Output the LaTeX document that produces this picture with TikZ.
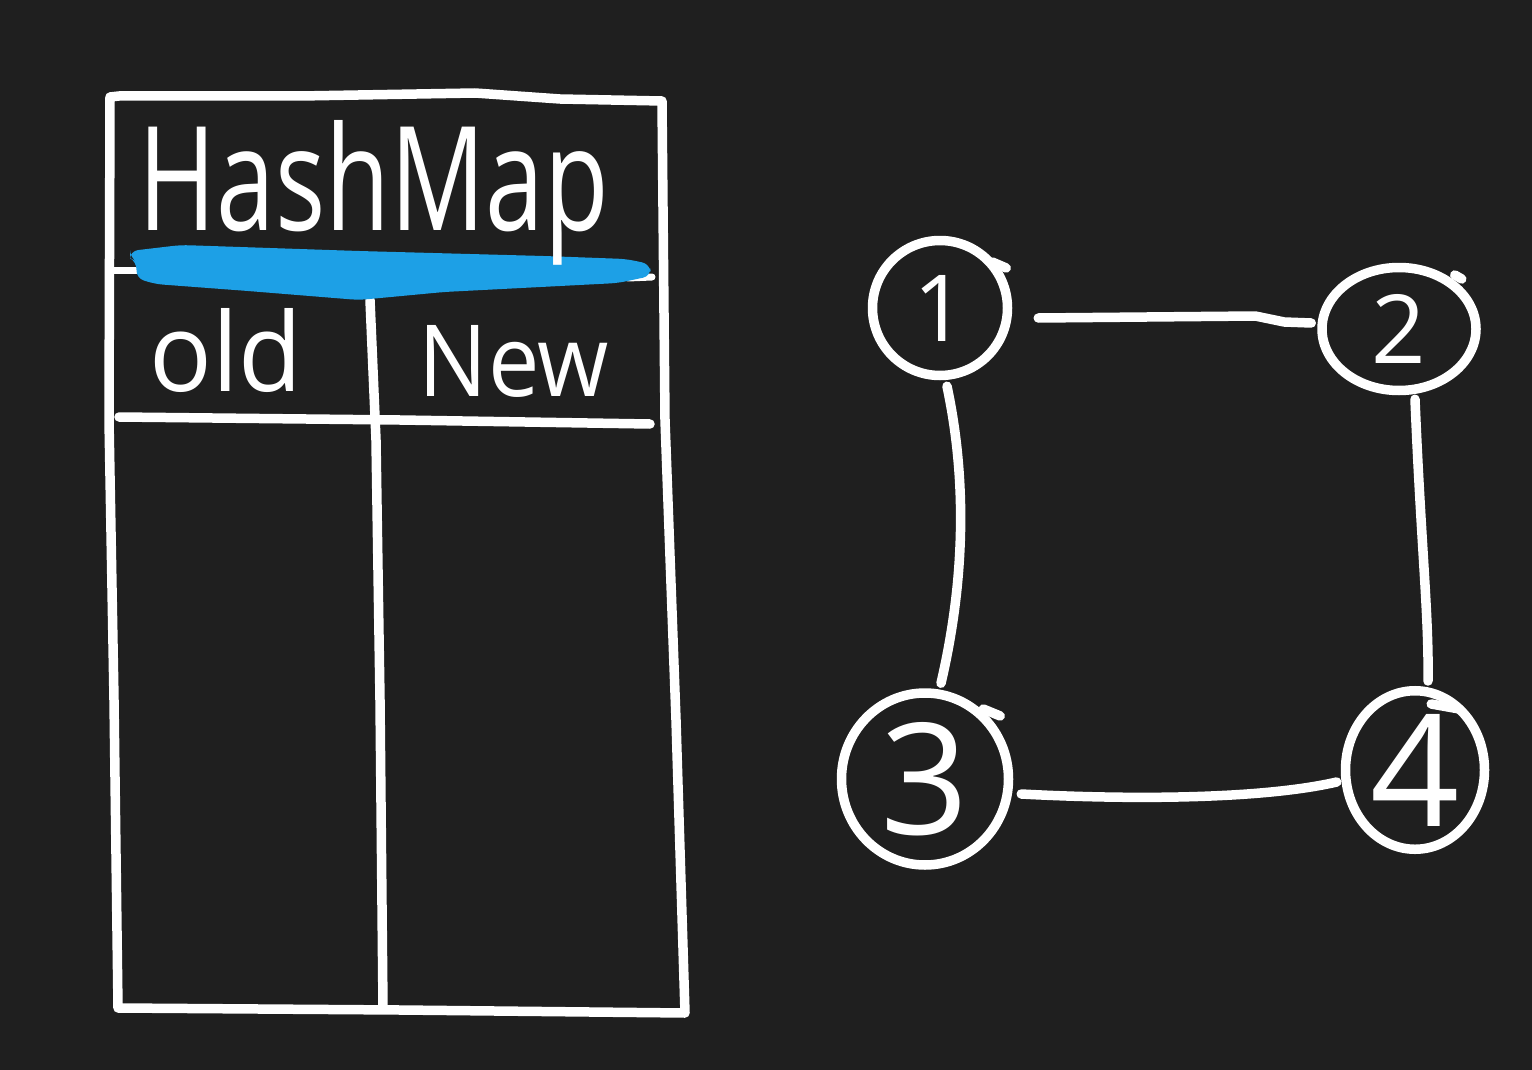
\documentclass[tikz,border=0pt]{standalone}
\usepackage{fontspec}
\setmainfont{Open Sans}
\usetikzlibrary{shapes.geometric}
\definecolor{bg}{HTML}{1F1F1F}
\definecolor{hl}{HTML}{1DA0E6}
\tikzset{
  pen/.style={draw=white,line width=9.5pt,line cap=round,line join=round},
  vertex/.style={ellipse,pen,inner sep=0pt,text=white},
  label/.style={text=white,inner sep=0pt,anchor=base},
  edge/.style={pen}
}
\begin{document}
\begin{tikzpicture}[x=1pt,y=-1pt]
\fill[bg] (0,0) rectangle (1532,1070);
\useasboundingbox (0,0) rectangle (1532,1070);

% ---- table ----
\draw[pen] (110,97) -- (119,96) -- (300,96) -- (475,93) -- (560,99) -- (662,101)
  -- (665,420) -- (676,720) -- (685,1013) -- (400,1010) -- (118,1008)
  -- (114,700) -- (109,420) -- cycle;
% header underline
\draw[pen] (119,417) -- (400,420) -- (650,424);
% column divider
\draw[pen] (370,300) -- (376,440) -- (380,700) -- (383,1008);
% white stubs under highlight
\draw[pen,line width=7pt] (112,270) -- (138,270);
\draw[pen,line width=7pt] (628,278) -- (652,277);
% blue highlight
\fill[hl,rounded corners=8pt] (130,251) -- (181,245) -- (359,251) -- (544,256) -- (626,259)
  -- (650,264) -- (651,276) -- (618,283) -- (444,292) -- (359,300) -- (248,291)
  -- (155,284) -- (136,278) -- (137,262) -- (130,258) -- cycle;

\node[label] (title) at (374,230) {\resizebox{470pt}{110pt}{HashMap}};
\node[label] (old) at (226,391) {\resizebox{153pt}{83pt}{old}};
\node[label] (new) at (514,396) {\resizebox{190pt}{71pt}{New}};

% ---- graph ----
\node[vertex,minimum width=135pt,minimum height=135pt] (n1) at (940,308)
  {\resizebox{!}{66pt}{1}};
\node[vertex,minimum width=154pt,minimum height=123pt] (n2) at (1399,329)
  {\resizebox{!}{69pt}{2}};
\node[vertex,minimum width=167pt,minimum height=172pt] (n3) at (925,779)
  {\resizebox{!}{112pt}{3}};
\node[vertex,minimum width=139pt,minimum height=155pt] (n4) at (1415,770)
  {\resizebox{!}{112pt}{4}};

% stroke tails of the hand-drawn circles
\draw[pen] ([shift={(-20,-46)}]n1.east) -- ([shift={(-6,-40)}]n1.east);
\draw[pen] ([shift={(-26,-54)}]n2.east) -- ([shift={(-19,-50)}]n2.east);
\draw[pen] ([shift={(-30,-70)}]n3.east) -- ([shift={(-13,-63)}]n3.east);
\draw[pen] ([shift={(-58,-66)}]n4.east) -- ([shift={(-30,-61)}]n4.east);

% edges
\draw[edge] ([shift={(26,10)}]n1.east) -- ([shift={(243,8)}]n1.east)
  -- ([shift={(272,14)}]n1.east) -- ([shift={(-6,-6)}]n2.west);
\draw[edge] ([shift={(7,6)}]n1.south) .. controls ([shift={(27,100)}]n1.south)
  and ([shift={(25,200)}]n1.south) .. ([shift={(16,-5)}]n3.north);
\draw[edge] ([shift={(16,4)}]n2.south) .. controls ([shift={(22,150)}]n2.south)
  and ([shift={(30,220)}]n2.south) .. ([shift={(13,-5)}]n4.north);
\draw[edge] ([shift={(8,15)}]n3.east) .. controls ([shift={(120,21)}]n3.east)
  and ([shift={(250,20)}]n3.east) .. ([shift={(-4,12)}]n4.west);
\end{tikzpicture}
\end{document}
